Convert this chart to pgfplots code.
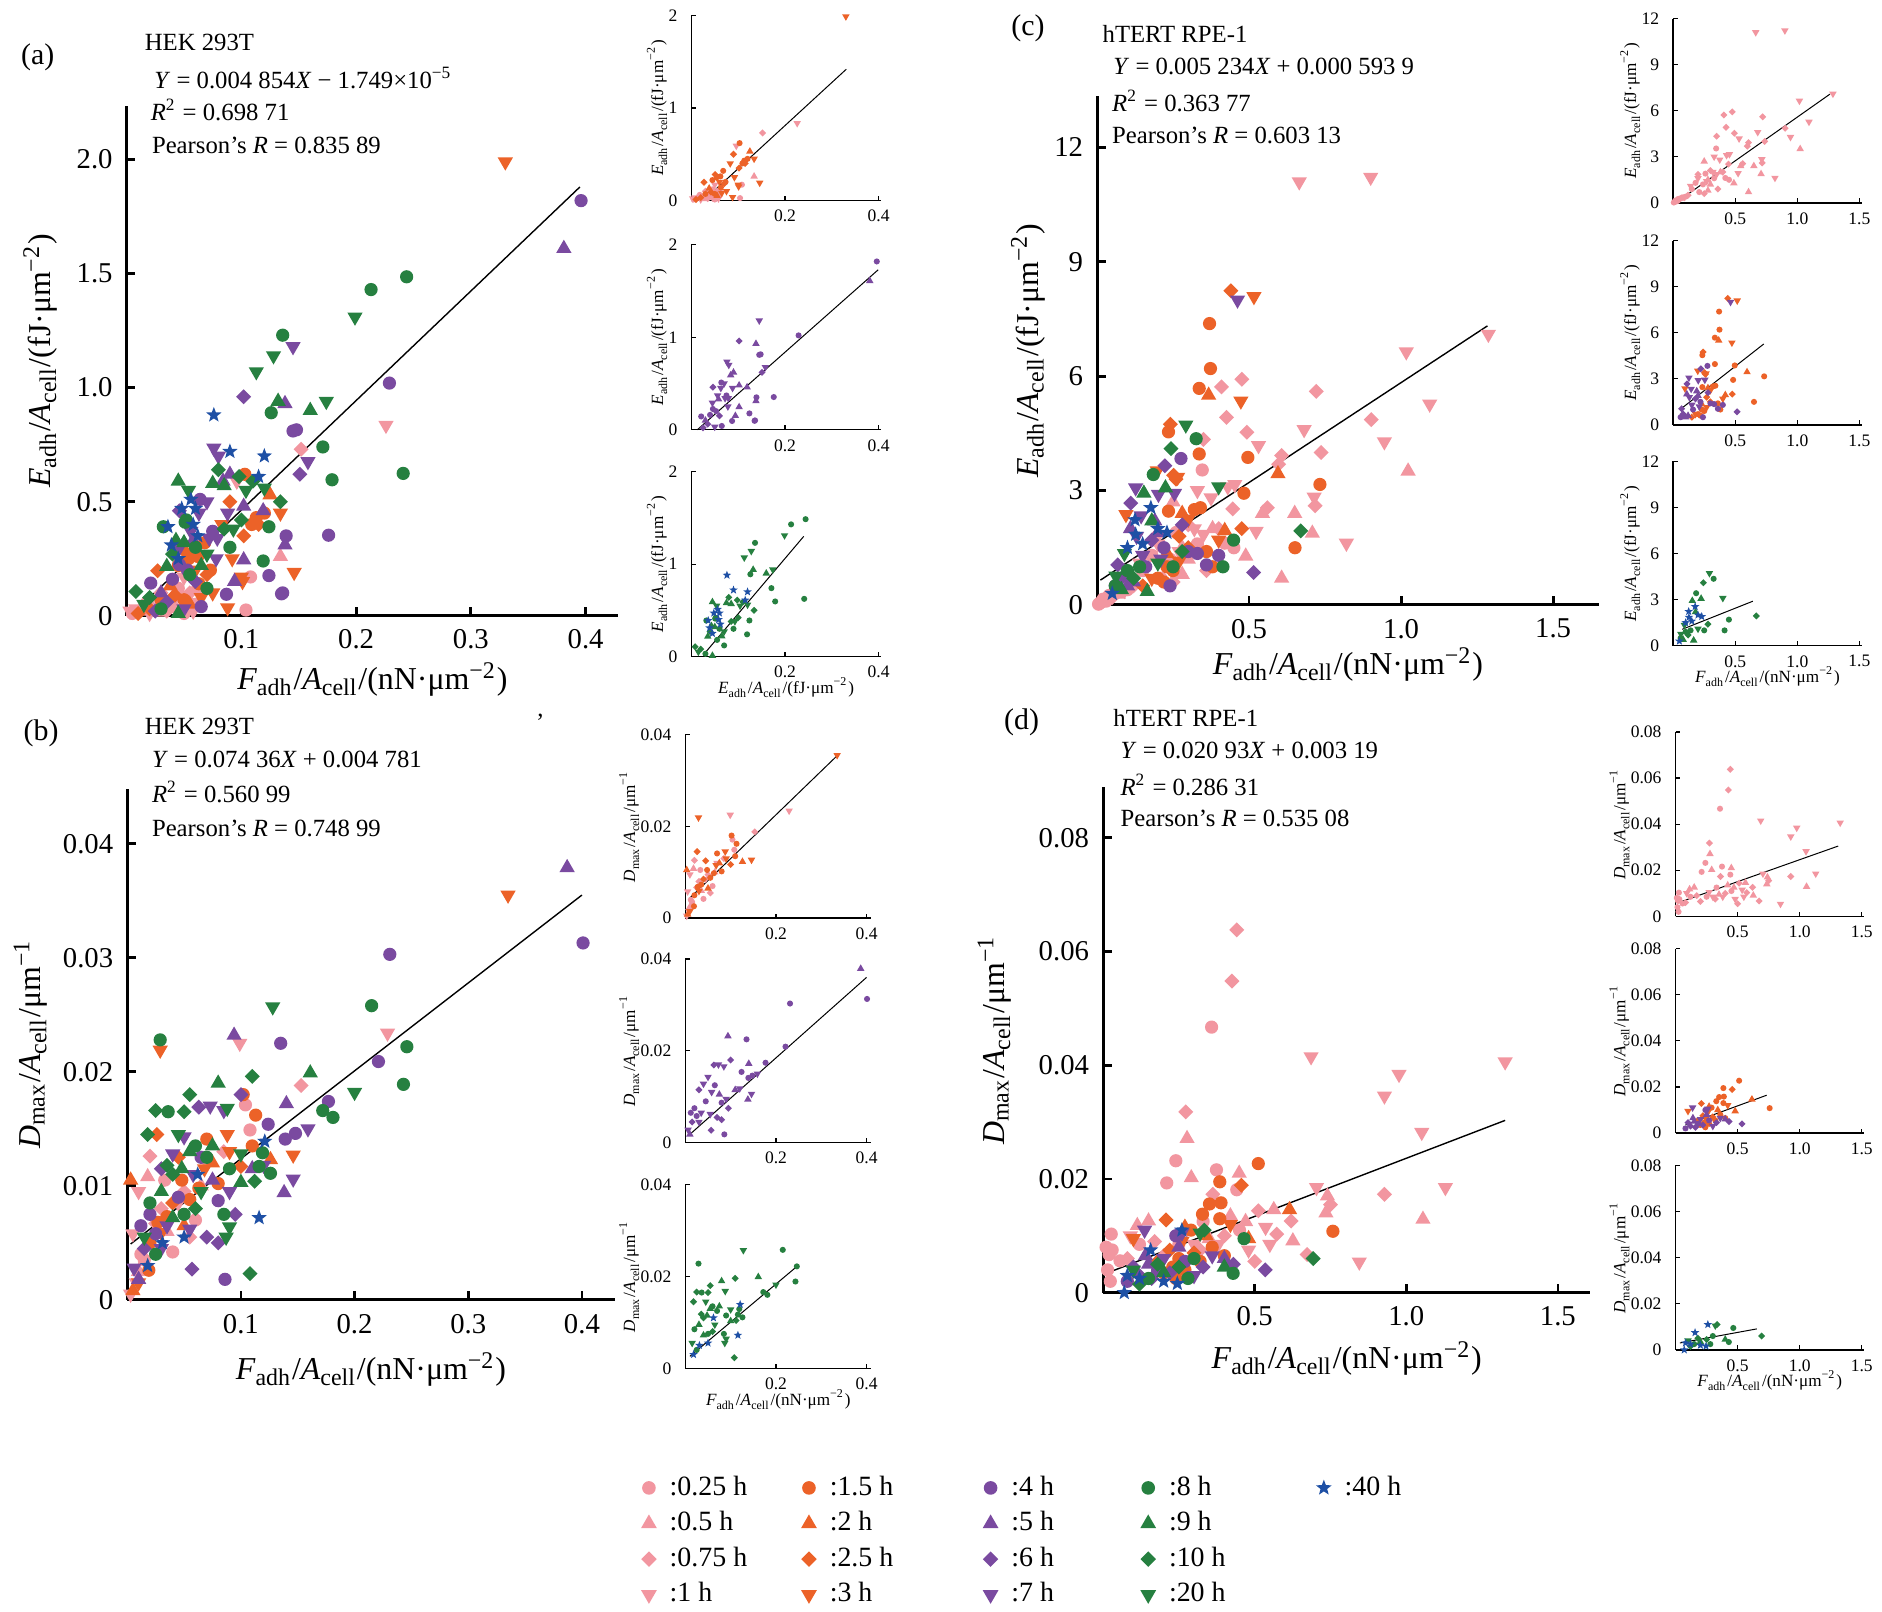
\documentclass[border=0pt]{standalone}
\usepackage{pgfplots}
\usepackage{pgfplotstable}
\pgfplotsset{compat=1.18}
\usepackage{fontspec}
\setmainfont{Liberation Serif}
\definecolor{pinkc}{RGB}{242,150,160}
\definecolor{orangec}{RGB}{236,98,40}
\definecolor{purplec}{RGB}{122,74,160}
\definecolor{greenc}{RGB}{38,128,64}
\definecolor{bluec}{RGB}{30,80,165}
\pgfdeclareplotmark{utri}{%
 \pgfpathmoveto{\pgfpointscale{1.25}{\pgfqpointpolar{90}{\pgfplotmarksize}}}%
 \pgfpathlineto{\pgfpointscale{1.25}{\pgfqpointpolar{210}{\pgfplotmarksize}}}%
 \pgfpathlineto{\pgfpointscale{1.25}{\pgfqpointpolar{330}{\pgfplotmarksize}}}%
 \pgfpathclose\pgfusepathqfillstroke}
\pgfdeclareplotmark{dtri}{%
 \pgfpathmoveto{\pgfpointscale{1.25}{\pgfqpointpolar{270}{\pgfplotmarksize}}}%
 \pgfpathlineto{\pgfpointscale{1.25}{\pgfqpointpolar{30}{\pgfplotmarksize}}}%
 \pgfpathlineto{\pgfpointscale{1.25}{\pgfqpointpolar{150}{\pgfplotmarksize}}}%
 \pgfpathclose\pgfusepathqfillstroke}
\pgfdeclareplotmark{dia}{%
 \pgfpathmoveto{\pgfpointscale{1.1}{\pgfqpointpolar{90}{\pgfplotmarksize}}}%
 \pgfpathlineto{\pgfpointscale{1.1}{\pgfqpointpolar{180}{\pgfplotmarksize}}}%
 \pgfpathlineto{\pgfpointscale{1.1}{\pgfqpointpolar{270}{\pgfplotmarksize}}}%
 \pgfpathlineto{\pgfpointscale{1.1}{\pgfqpointpolar{0}{\pgfplotmarksize}}}%
 \pgfpathclose\pgfusepathqfillstroke}
\pgfdeclareplotmark{fstar}{%
 \pgfpathmoveto{\pgfqpointpolar{90}{\pgfplotmarksize}}%
 \pgfpathlineto{\pgfpointscale{0.42}{\pgfqpointpolar{126}{\pgfplotmarksize}}}%
 \pgfpathlineto{\pgfqpointpolar{162}{\pgfplotmarksize}}%
 \pgfpathlineto{\pgfpointscale{0.42}{\pgfqpointpolar{198}{\pgfplotmarksize}}}%
 \pgfpathlineto{\pgfqpointpolar{234}{\pgfplotmarksize}}%
 \pgfpathlineto{\pgfpointscale{0.42}{\pgfqpointpolar{270}{\pgfplotmarksize}}}%
 \pgfpathlineto{\pgfqpointpolar{306}{\pgfplotmarksize}}%
 \pgfpathlineto{\pgfpointscale{0.42}{\pgfqpointpolar{342}{\pgfplotmarksize}}}%
 \pgfpathlineto{\pgfqpointpolar{18}{\pgfplotmarksize}}%
 \pgfpathlineto{\pgfpointscale{0.42}{\pgfqpointpolar{54}{\pgfplotmarksize}}}%
 \pgfpathclose\pgfusepathqfillstroke}
\newcommand{\fs}[1]{\fontsize{#1}{#1}\selectfont}
\newcommand{\Elab}{\textit{E}\textsubscript{adh}/\textit{A}\textsubscript{cell}/(fJ·μm\textsuperscript{−2})}
\newcommand{\Flab}{\textit{F}\textsubscript{adh}/\textit{A}\textsubscript{cell}/(nN·μm\textsuperscript{−2})}
\newcommand{\Dlab}{\textit{D}\textsubscript{max}/\textit{A}\textsubscript{cell}/μm\textsuperscript{−1}}
\pgfplotsset{
 grp/.style={only marks, scatter, scatter src=explicit symbolic,
   scatter/classes={o={mark=*,draw=#1,fill=#1},t={mark=utri,draw=#1,fill=#1},d={mark=dia,draw=#1,fill=#1},v={mark=dtri,draw=#1,fill=#1},s={mark=fstar,draw=#1,fill=#1}}},
 mainax/.style={scale only axis, axis lines=left, axis line style={-, line width=0.75bp}, tick align=inside, major tick length=2.2bp, every tick/.style={black, line width=0.7bp}, tick label style={font=\fs{7.2}}, label style={font=\fs{8}}, mark size=1.45bp, xmin=0, ymin=0, clip=false, scaled x ticks=false, scaled y ticks=false, /pgf/number format/assume math mode=true},
 insax/.style={scale only axis, axis lines=left, axis line style={-, line width=0.35bp}, tick align=inside, major tick length=1.1bp, every tick/.style={black, line width=0.3bp}, tick label style={font=\fs{4.4}}, xticklabel style={yshift=1.1bp}, label style={font=\fs{4.3}}, mark size=0.55bp, xmin=0, ymin=0, clip=false, scaled x ticks=false, scaled y ticks=false, xlabel shift=-7bp, ylabel shift=-6.5bp, /pgf/number format/assume math mode=true},
 fitline/.style={black, line width=0.35bp, no marks, forget plot},
 fitins/.style={black, line width=0.25bp, no marks, forget plot},
}
% ---------------- panel (a) data ----------------
\pgfplotstableread[row sep=\\]{
x y c\\
0.226 0.835 v\\ 0.152 0.73 d\\ 0.134 0.26 t\\ 0.108 0.17 o\\ 0.104 0.025 o\\ 0.096 0.59 v\\
0.005 0.01 o\\ 0.008 0.03 v\\ 0.012 0.02 t\\ 0.015 0.04 d\\ 0.02 0.01 v\\ 0.025 0.03 o\\ 0.03 0.05 v\\ 0.035 0.02 d\\
0.04 0.04 o\\ 0.045 0.03 v\\ 0.05 0.05 t\\ 0.055 0.06 d\\ 0.06 0.05 o\\ 0.058 0.02 v\\ 0.04 0.08 t\\ 0.03 0.1 d\\
0.045 0.12 o\\ 0.05 0.17 v\\ 0.06 0.12 t\\ 0.055 0.1 d\\ 0.018 0.06 o\\ 0.003 0.02 v\\ 0.027 0.015 t\\ 0.05 0.01 o\\
}\aPink
\pgfplotstableread[row sep=\\]{
x y c\\
0.33 1.99 v\\ 0.103 0.62 o\\ 0.125 0.53 t\\ 0.134 0.45 v\\ 0.113 0.43 o\\ 0.109 0.40 o\\ 0.146 0.19 v\\ 0.088 0.035 v\\
0.101 0.15 v\\ 0.09 0.50 d\\ 0.083 0.40 v\\ 0.092 0.25 v\\ 0.102 0.35 d\\ 0.027 0.197 d\\ 0.062 0.26 o\\ 0.054 0.25 o\\
0.063 0.14 o\\ 0.051 0.28 d\\ 0.045 0.22 o\\ 0.06 0.2 v\\ 0.07 0.18 d\\ 0.073 0.2 o\\ 0.038 0.13 t\\ 0.042 0.09 d\\
0.05 0.07 o\\ 0.065 0.08 v\\ 0.02 0.03 d\\ 0.03 0.07 o\\ 0.075 0.1 v\\ 0.055 0.05 t\\ 0.068 0.32 o\\ 0.1 0.17 v\\
0.115 0.40 d\\ 0.12 0.45 o\\ 0.01 0.01 d\\
}\aOrange
\pgfplotstableread[row sep=\\]{
x y c\\
0.396 1.82 o\\ 0.381 1.61 t\\ 0.145 1.18 v\\ 0.229 1.02 o\\ 0.102 0.96 d\\ 0.138 0.93 t\\ 0.145 0.81 o\\ 0.148 0.815 o\\
0.076 0.735 v\\ 0.08 0.70 v\\ 0.158 0.676 v\\ 0.151 0.62 d\\ 0.176 0.353 o\\ 0.136 0.10 o\\ 0.087 0.094 o\\ 0.124 0.176 o\\
0.139 0.35 o\\ 0.138 0.31 t\\ 0.021 0.143 o\\ 0.046 0.224 o\\ 0.053 0.2 o\\ 0.056 0.37 v\\ 0.046 0.46 d\\ 0.063 0.45 v\\
0.064 0.51 o\\ 0.084 0.59 t\\ 0.088 0.45 v\\ 0.102 0.48 t\\ 0.072 0.34 v\\ 0.079 0.34 v\\ 0.078 0.25 v\\ 0.102 0.245 t\\
0.094 0.15 t\\ 0.135 0.096 o\\ 0.119 0.46 t\\ 0.07 0.5 v\\ 0.09 0.62 t\\ 0.04 0.16 o\\ 0.03 0.1 t\\ 0.035 0.06 d\\
0.05 0.03 v\\ 0.065 0.04 o\\ 0.025 0.02 d\\ 0.045 0.29 v\\ 0.058 0.33 t\\ 0.06 0.15 d\\ 0.075 0.37 o\\
}\aPurple
\pgfplotstableread[row sep=\\]{
x y c\\
0.244 1.486 o\\ 0.213 1.43 o\\ 0.199 1.31 v\\ 0.136 1.23 o\\ 0.128 1.14 v\\ 0.113 1.07 v\\ 0.126 0.89 o\\ 0.132 0.94 t\\
0.16 0.90 t\\ 0.174 0.94 v\\ 0.171 0.74 o\\ 0.241 0.624 o\\ 0.179 0.596 o\\ 0.119 0.24 o\\ 0.134 0.50 d\\ 0.124 0.39 o\\
0.045 0.59 t\\ 0.032 0.39 o\\ 0.052 0.42 o\\ 0.075 0.58 t\\ 0.008 0.106 d\\ 0.035 0.216 t\\ 0.043 0.33 t\\ 0.051 0.41 o\\
0.054 0.55 v\\ 0.104 0.55 v\\ 0.1 0.42 d\\ 0.093 0.38 v\\ 0.09 0.30 o\\ 0.098 0.61 d\\ 0.11 0.59 d\\ 0.12 0.56 v\\
0.085 0.57 t\\ 0.08 0.64 d\\ 0.06 0.30 o\\ 0.05 0.32 t\\ 0.04 0.27 d\\ 0.07 0.27 v\\ 0.055 0.18 o\\ 0.065 0.22 t\\
0.02 0.08 d\\ 0.03 0.03 o\\ 0.045 0.01 t\\ 0.015 0.05 v\\ 0.07 0.12 o\\ 0.085 0.38 d\\
}\aGreen
\pgfplotstableread[row sep=\\]{
x y c\\
0.076 0.88 s\\ 0.09 0.72 s\\ 0.12 0.70 s\\ 0.115 0.61 s\\ 0.056 0.51 s\\ 0.06 0.47 s\\ 0.036 0.39 s\\ 0.039 0.31 s\\
0.048 0.47 s\\ 0.058 0.40 s\\ 0.045 0.25 s\\ 0.062 0.35 s\\
}\aBlue
% ---------------- panel (b) data ----------------
\pgfplotstableread[row sep=\\]{
x y c\\
0.229 0.0234 v\\ 0.099 0.0225 v\\ 0.153 0.0188 d\\ 0.104 0.0171 o\\ 0.108 0.0149 o\\ 0.01 0.0095 v\\ 0.02 0.0126 d\\ 0.018 0.0108 t\\
0.005 0.0058 v\\ 0.012 0.004 o\\ 0.01 0.0025 t\\ 0.003 0.0005 v\\ 0.03 0.008 d\\ 0.04 0.0042 o\\ 0.055 0.0055 d\\ 0.06 0.007 o\\
0.035 0.006 t\\ 0.045 0.0085 v\\ 0.025 0.0067 d\\ 0.015 0.0035 o\\ 0.008 0.0015 v\\ 0.05 0.0095 d\\ 0.065 0.01 t\\ 0.033 0.0105 o\\
0.07 0.012 v\\ 0.085 0.013 d\\
}\bPink
\pgfplotstableread[row sep=\\]{
x y c\\
0.335 0.0355 v\\ 0.029 0.0219 v\\ 0.026 0.0145 d\\ 0.003 0.0105 t\\ 0.102 0.018 o\\ 0.113 0.0162 o\\ 0.146 0.0127 v\\ 0.126 0.0123 t\\
0.07 0.0141 o\\ 0.11 0.0135 o\\ 0.088 0.0145 v\\ 0.09 0.013 v\\ 0.1 0.0117 d\\ 0.068 0.0115 v\\ 0.063 0.0098 o\\ 0.048 0.0105 o\\
0.035 0.0073 o\\ 0.027 0.0068 o\\ 0.02 0.005 o\\ 0.019 0.0026 o\\ 0.04 0.0085 d\\ 0.01 0.0015 v\\ 0.005 0.0008 t\\ 0.055 0.0088 o\\
0.05 0.0065 t\\ 0.03 0.0059 v\\ 0.045 0.0125 d\\ 0.08 0.0102 o\\ 0.075 0.012 t\\
}\bOrange
\pgfplotstableread[row sep=\\]{
x y c\\
0.387 0.0379 t\\ 0.401 0.0313 o\\ 0.231 0.0303 o\\ 0.221 0.0209 o\\ 0.135 0.0225 o\\ 0.094 0.0232 t\\ 0.177 0.0174 o\\ 0.159 0.015 v\\
0.139 0.0141 o\\ 0.148 0.0146 o\\ 0.124 0.0154 o\\ 0.146 0.0106 v\\ 0.138 0.0094 t\\ 0.086 0.0018 o\\ 0.057 0.0027 d\\ 0.08 0.005 d\\
0.073 0.017 v\\ 0.063 0.0169 d\\ 0.14 0.0172 t\\ 0.085 0.0166 v\\ 0.1 0.018 d\\ 0.05 0.0143 v\\ 0.04 0.0128 v\\ 0.03 0.0115 d\\
0.065 0.0125 o\\ 0.058 0.011 v\\ 0.075 0.0105 t\\ 0.08 0.0087 o\\ 0.09 0.0095 v\\ 0.11 0.0115 t\\ 0.12 0.0118 v\\ 0.095 0.0075 d\\
0.045 0.009 o\\ 0.035 0.0065 v\\ 0.025 0.0058 o\\ 0.015 0.0045 d\\ 0.006 0.0028 v\\ 0.01 0.0018 t\\ 0.02 0.0075 o\\ 0.055 0.0062 v\\
0.07 0.0055 d\\ 0.012 0.0065 o\\ 0.03 0.0045 v\\
}\bPurple
\pgfplotstableread[row sep=\\]{
x y c\\
0.215 0.0258 o\\ 0.128 0.0257 v\\ 0.029 0.0228 o\\ 0.246 0.0222 o\\ 0.243 0.0189 o\\ 0.2 0.0182 v\\ 0.161 0.0199 t\\ 0.11 0.0196 d\\
0.172 0.0166 o\\ 0.181 0.016 o\\ 0.119 0.0129 o\\ 0.116 0.0117 o\\ 0.126 0.0111 o\\ 0.108 0.0023 d\\ 0.018 0.0145 d\\ 0.025 0.0166 d\\
0.036 0.0165 o\\ 0.055 0.018 d\\ 0.08 0.019 t\\ 0.088 0.0168 v\\ 0.05 0.0165 d\\ 0.085 0.0075 o\\ 0.087 0.0055 v\\ 0.09 0.0064 v\\
0.1 0.0103 t\\ 0.09 0.0115 o\\ 0.055 0.013 t\\ 0.04 0.011 d\\ 0.045 0.0145 v\\ 0.06 0.0135 o\\ 0.03 0.0095 t\\ 0.02 0.0085 o\\
0.035 0.0118 d\\ 0.065 0.0095 v\\ 0.07 0.0125 o\\ 0.075 0.0135 t\\ 0.06 0.008 d\\ 0.015 0.0055 v\\ 0.025 0.004 o\\ 0.04 0.0072 t\\
0.112 0.0104 d\\ 0.05 0.0075 o\\ 0.1 0.0128 v\\ 0.048 0.0115 t\\
}\bGreen
\pgfplotstableread[row sep=\\]{
x y c\\
0.121 0.0139 s\\ 0.116 0.0072 s\\ 0.031 0.005 s\\ 0.062 0.011 s\\ 0.05 0.0055 s\\ 0.018 0.003 s\\
}\bBlue
% ---------------- panel (c) data ----------------
\pgfplotstableread[row sep=\\]{
x y c\\
0.665 11.1 v\\ 0.9 11.22 v\\ 0.476 5.92 d\\ 0.409 5.72 d\\ 0.721 5.6 d\\ 0.426 4.92 d\\ 1.287 7.1 v\\ 1.017 6.64 v\\
1.094 5.27 v\\ 0.902 4.86 d\\ 0.945 4.28 v\\ 0.681 4.6 v\\ 0.737 4.0 d\\ 0.607 3.92 d\\ 0.493 4.53 d\\ 0.531 4.18 v\\
0.597 3.69 d\\ 1.023 3.51 t\\ 0.717 2.6 d\\ 0.714 2.83 v\\ 0.65 2.4 t\\ 0.708 1.88 t\\ 0.82 1.62 v\\ 0.607 0.7 t\\
0.489 1.28 t\\ 0.523 1.93 v\\ 0.446 2.52 d\\ 0.453 3.16 v\\ 0.43 3.1 v\\ 0.544 2.4 t\\ 0.375 2.81 v\\ 0.346 3.54 o\\
0.35 4.34 d\\ 0.33 3.0 v\\ 0.4 2.0 d\\ 0.38 2.0 t\\ 0.35 1.85 v\\ 0.42 1.62 o\\ 0.3 2.1 d\\ 0.26 1.9 o\\
0.28 1.5 t\\ 0.2 1.6 v\\ 0.18 1.3 o\\ 0.2 1.85 d\\ 0.24 1.2 o\\ 0.27 1.4 v\\ 0.3 1.2 t\\ 0.21 0.7 o\\
0.25 0.6 d\\ 0.15 0.9 o\\ 0.14 1.1 v\\ 0.12 0.5 d\\ 0.1 0.4 o\\ 0.08 0.35 o\\ 0.06 0.3 o\\ 0.04 0.25 o\\
0.02 0.15 o\\ 0.01 0.05 o\\ 0.03 0.1 o\\ 0.05 0.2 d\\ 0.07 0.28 t\\ 0.09 0.38 v\\ 0.005 0.02 o\\ 0.015 0.08 o\\
0.25 2.7 t\\ 0.32 2.0 v\\ 0.56 2.55 d\\ 0.45 1.5 o\\ 0.33 1.6 o\\ 0.36 0.9 d\\ 0.28 0.8 t\\
}\cPink
\pgfplotstableread[row sep=\\]{
x y c\\
0.44 8.24 d\\ 0.516 8.09 v\\ 0.37 7.38 o\\ 0.373 6.2 o\\ 0.336 5.68 o\\ 0.367 5.5 t\\ 0.473 5.35 v\\ 0.595 3.44 t\\
0.733 3.16 o\\ 0.651 1.5 o\\ 0.476 2.0 d\\ 0.483 2.93 o\\ 0.496 3.87 o\\ 0.336 3.96 o\\ 0.235 4.54 o\\ 0.241 4.74 d\\
0.235 2.46 o\\ 0.198 3.52 v\\ 0.252 3.4 d\\ 0.095 2.37 v\\ 0.32 2.5 o\\ 0.34 2.55 o\\ 0.3 2.25 v\\ 0.28 2.4 t\\
0.27 1.8 d\\ 0.23 1.0 o\\ 0.18 0.7 v\\ 0.25 0.9 o\\ 0.3 1.5 d\\ 0.36 1.4 o\\ 0.4 1.7 v\\ 0.42 1.95 t\\
0.2 0.7 o\\ 0.15 0.5 d\\ 0.22 0.6 o\\ 0.27 1.15 v\\ 0.23 1.35 t\\ 0.38 1.0 o\\ 0.26 3.3 d\\ 0.265 3.35 v\\
}\cOrange
\pgfplotstableread[row sep=\\]{
x y c\\
0.462 8.0 v\\ 0.515 0.85 d\\ 0.276 3.84 o\\ 0.223 3.65 d\\ 0.202 2.9 v\\ 0.255 2.93 v\\ 0.127 3.07 v\\ 0.111 2.67 d\\
0.145 2.34 v\\ 0.068 1.05 d\\ 0.1 0.5 t\\ 0.3 1.4 o\\ 0.33 1.35 o\\ 0.36 1.05 o\\ 0.4 1.3 o\\ 0.2 1.9 t\\
0.15 1.3 v\\ 0.18 1.7 d\\ 0.22 1.5 o\\ 0.12 0.6 t\\ 0.13 1.8 v\\ 0.16 1.0 o\\ 0.08 0.7 d\\ 0.19 2.2 t\\
0.24 0.5 o\\ 0.21 1.2 v\\ 0.28 2.1 d\\ 0.11 2.0 t\\ 0.06 0.5 o\\
}\cPurple
\pgfplotstableread[row sep=\\]{
x y c\\
0.67 1.94 d\\ 0.449 1.7 o\\ 0.414 1.0 o\\ 0.326 4.36 o\\ 0.292 4.72 v\\ 0.243 4.1 d\\ 0.185 3.42 o\\ 0.225 3.07 t\\
0.4 3.1 v\\ 0.154 2.93 t\\ 0.165 0.35 t\\ 0.062 0.76 v\\ 0.09 1.35 v\\ 0.1 0.9 o\\ 0.12 0.7 d\\ 0.14 1.0 o\\
0.18 2.2 t\\ 0.2 1.1 v\\ 0.25 1.0 o\\ 0.28 1.4 d\\ 0.06 0.5 o\\ 0.08 0.4 t\\
}\cGreen
\pgfplotstableread[row sep=\\]{
x y c\\
0.177 2.55 s\\ 0.125 2.23 s\\ 0.127 1.85 s\\ 0.23 1.9 s\\ 0.15 1.6 s\\ 0.1 1.5 s\\ 0.2 2.0 s\\ 0.05 0.3 s\\
}\cBlue
% ---------------- panel (d) data ----------------
\pgfplotstableread[row sep=\\]{
x y c\\
0.441 0.0638 d\\ 0.425 0.0548 d\\ 0.358 0.0467 o\\ 0.686 0.0415 v\\ 1.326 0.0406 v\\ 0.976 0.0384 v\\ 0.928 0.0346 v\\ 0.273 0.0318 d\\
1.051 0.0282 v\\ 0.277 0.0271 t\\ 0.24 0.0232 o\\ 0.291 0.0202 t\\ 0.21 0.0193 o\\ 0.374 0.0216 o\\ 0.449 0.021 t\\ 1.129 0.0185 v\\
0.704 0.0185 v\\ 0.928 0.0173 d\\ 0.74 0.017 t\\ 0.75 0.0155 d\\ 0.735 0.014 t\\ 1.055 0.0129 t\\ 0.845 0.0054 v\\ 0.673 0.0067 d\\
0.626 0.0091 t\\ 0.62 0.0126 d\\ 0.55 0.0085 v\\ 0.563 0.0146 t\\ 0.512 0.0144 d\\ 0.536 0.0115 v\\ 0.573 0.0103 d\\ 0.441 0.0181 o\\
0.362 0.0173 d\\ 0.15 0.0126 t\\ 0.113 0.0118 t\\ 0.027 0.0103 o\\ 0.02 0.0067 o\\ 0.024 0.002 o\\ 0.056 0.0056 o\\ 0.01 0.008 o\\
0.015 0.004 o\\ 0.03 0.0075 o\\ 0.08 0.006 d\\ 0.35 0.0095 t\\ 0.3 0.0085 v\\ 0.4 0.01 d\\ 0.45 0.011 o\\ 0.48 0.0075 v\\
0.5 0.0055 d\\ 0.47 0.0125 t\\ 0.33 0.0125 o\\ 0.27 0.0105 v\\ 0.2 0.0065 d\\ 0.25 0.0085 o\\ 0.42 0.0135 t\\ 0.38 0.0085 v\\
0.32 0.0075 d\\ 0.12 0.0085 o\\ 0.09 0.01 v\\ 0.17 0.009 d\\
}\dPink
\pgfplotstableread[row sep=\\]{
x y c\\
0.512 0.0227 o\\ 0.385 0.0195 o\\ 0.758 0.0108 o\\ 0.615 0.0146 t\\ 0.385 0.013 o\\ 0.328 0.0138 o\\ 0.389 0.0158 o\\ 0.351 0.0156 o\\
0.456 0.0189 d\\ 0.208 0.0128 d\\ 0.1 0.0095 v\\ 0.25 0.006 o\\ 0.27 0.004 o\\ 0.23 0.0045 o\\ 0.3 0.007 d\\ 0.32 0.0055 o\\
0.26 0.009 v\\ 0.34 0.01 t\\ 0.2 0.0035 o\\ 0.22 0.0075 d\\ 0.29 0.011 o\\ 0.42 0.012 v\\ 0.48 0.0095 t\\ 0.36 0.008 o\\
0.4 0.0065 o\\ 0.18 0.0055 d\\ 0.24 0.0025 o\\ 0.27 0.0115 t\\
}\dOrange
\pgfplotstableread[row sep=\\]{
x y c\\
0.137 0.011 v\\ 0.535 0.004 d\\ 0.12 0.003 d\\ 0.1 0.0045 d\\ 0.15 0.005 t\\ 0.18 0.004 o\\ 0.2 0.006 v\\ 0.22 0.0035 d\\
0.25 0.008 t\\ 0.27 0.0055 o\\ 0.3 0.003 v\\ 0.33 0.0045 d\\ 0.4 0.006 t\\ 0.43 0.005 d\\ 0.24 0.01 o\\ 0.26 0.0105 v\\
0.14 0.0065 t\\ 0.16 0.0025 d\\ 0.08 0.002 o\\ 0.36 0.0065 v\\
}\dPurple
\pgfplotstableread[row sep=\\]{
x y c\\
0.693 0.006 d\\ 0.429 0.0034 o\\ 0.465 0.0095 o\\ 0.334 0.011 d\\ 0.12 0.0015 d\\ 0.15 0.0025 o\\ 0.1 0.004 v\\ 0.2 0.0035 t\\
0.25 0.0045 d\\ 0.3 0.006 o\\ 0.4 0.0045 t\\ 0.32 0.0105 v\\ 0.28 0.0025 o\\ 0.18 0.005 d\\
}\dGreen
\pgfplotstableread[row sep=\\]{
x y c\\
0.07 0.0 s\\ 0.2 0.002 s\\ 0.245 0.0016 s\\ 0.157 0.0075 s\\ 0.26 0.011 s\\ 0.08 0.003 s\\ 0.12 0.0025 s\\
}\dBlue
\begin{document}
\begin{tikzpicture}
\useasboundingbox (0,0) rectangle (470.4bp,402.9bp);
% ================= (a) main =================
\begin{axis}[mainax, at={(31.65bp,249bp)}, anchor=south west, width=122.85bp, height=127.35bp,
  xmax=0.4283, ymax=2.234, xtick={0.1,0.2,0.3,0.4}, xticklabels={0.1,0.2,0.3,0.4},
  ytick={0,0.5,1,1.5,2}, yticklabels={0,0.5,1.0,1.5,2.0}, xlabel={\Flab}, ylabel={\Elab},
  xlabel shift=-3.5bp, ylabel shift=-2bp]
\addplot[fitline] coordinates {(0.005,0.007) (0.395,1.88)};
\addplot[grp=pinkc] table[x=x,y=y,meta=c]{\aPink};
\addplot[grp=orangec] table[x=x,y=y,meta=c]{\aOrange};
\addplot[grp=purplec] table[x=x,y=y,meta=c]{\aPurple};
\addplot[grp=greenc] table[x=x,y=y,meta=c]{\aGreen};
\addplot[grp=bluec] table[x=x,y=y,meta=c]{\aBlue};
\end{axis}
% (a) insets
\begin{axis}[insax, at={(172.8bp,352.8bp)}, anchor=south west, width=47.4bp, height=46.2bp, xmax=0.405, ymax=2,
  xtick={0.2,0.4}, xticklabels={0.2,0.4}, ytick={0,1,2}, yticklabels={0,1,2}, ylabel={\Elab}]
\addplot[fitins] coordinates {(0.039,0.06) (0.331,1.42)};
\addplot[grp=pinkc] table[x=x,y=y,meta=c]{\aPink};
\addplot[grp=orangec] table[x=x,y=y,meta=c]{\aOrange};
\end{axis}
\begin{axis}[insax, at={(172.8bp,295.5bp)}, anchor=south west, width=47.4bp, height=46.2bp, xmax=0.405, ymax=2,
  xtick={0.2,0.4}, xticklabels={0.2,0.4}, ytick={0,1,2}, yticklabels={0,1,2}, ylabel={\Elab}]
\addplot[fitins] coordinates {(0.013,0.0) (0.399,1.73)};
\addplot[grp=purplec] table[x=x,y=y,meta=c]{\aPurple};
\end{axis}
\begin{axis}[insax, at={(172.8bp,238.8bp)}, anchor=south west, width=47.4bp, height=46.2bp, xmax=0.405, ymax=2,
  xtick={0.2,0.4}, xticklabels={0.2,0.4}, ytick={0,1,2}, yticklabels={0,1,2}, ylabel={\Elab}, xlabel={\Elab}]
\addplot[fitins] coordinates {(0.026,0.02) (0.24,1.3)};
\addplot[grp=greenc] table[x=x,y=y,meta=c]{\aGreen};
\addplot[grp=bluec] table[x=x,y=y,meta=c]{\aBlue};
\end{axis}
% ================= (b) main =================
\begin{axis}[mainax, at={(31.8bp,78bp)}, anchor=south west, width=121.8bp, height=127.8bp,
  xmax=0.4287, ymax=0.04484, xtick={0.1,0.2,0.3,0.4}, xticklabels={0.1,0.2,0.3,0.4},
  ytick={0,0.01,0.02,0.03,0.04}, yticklabels={0,0.01,0.02,0.03,0.04}, xlabel={\Flab}, ylabel={\Dlab},
  xlabel shift=-2bp, ylabel shift=-3bp]
\addplot[fitline] coordinates {(0.003,0.0049) (0.4,0.0355)};
\addplot[grp=pinkc] table[x=x,y=y,meta=c]{\bPink};
\addplot[grp=orangec] table[x=x,y=y,meta=c]{\bOrange};
\addplot[grp=purplec] table[x=x,y=y,meta=c]{\bPurple};
\addplot[grp=greenc] table[x=x,y=y,meta=c]{\bGreen};
\addplot[grp=bluec] table[x=x,y=y,meta=c]{\bBlue};
\end{axis}
% (b) insets
\begin{axis}[insax, at={(171.3bp,173.4bp)}, anchor=south west, width=46.5bp, height=45.9bp, xmax=0.4106, ymax=0.04,
  xtick={0.2,0.4}, xticklabels={0.2,0.4}, ytick={0,0.02,0.04}, yticklabels={0,0.02,0.04}, ylabel={\Dlab}]
\addplot[fitins] coordinates {(0.01,0.0044) (0.334,0.0353)};
\addplot[grp=pinkc] table[x=x,y=y,meta=c]{\bPink};
\addplot[grp=orangec] table[x=x,y=y,meta=c]{\bOrange};
\end{axis}
\begin{axis}[insax, at={(171.3bp,117.3bp)}, anchor=south west, width=46.5bp, height=45.9bp, xmax=0.4106, ymax=0.04,
  xtick={0.2,0.4}, xticklabels={0.2,0.4}, ytick={0,0.02,0.04}, yticklabels={0,0.02,0.04}, ylabel={\Dlab}]
\addplot[fitins] coordinates {(0.01,0.0018) (0.4,0.036)};
\addplot[grp=purplec] table[x=x,y=y,meta=c]{\bPurple};
\end{axis}
\begin{axis}[insax, at={(171.3bp,60.9bp)}, anchor=south west, width=46.5bp, height=45.9bp, xmax=0.4106, ymax=0.04,
  xtick={0.2,0.4}, xticklabels={0.2,0.4}, ytick={0,0.02,0.04}, yticklabels={0,0.02,0.04}, ylabel={\Dlab}, xlabel={\Flab}]
\addplot[fitins] coordinates {(0.01,0.0026) (0.244,0.022)};
\addplot[grp=greenc] table[x=x,y=y,meta=c]{\bGreen};
\addplot[grp=bluec] table[x=x,y=y,meta=c]{\bBlue};
\end{axis}
% ================= (c) main =================
\begin{axis}[mainax, at={(274.2bp,251.7bp)}, anchor=south west, width=125.4bp, height=127.2bp,
  xmax=1.65, ymax=13.35, xtick={0.5,1,1.5}, xticklabels={0.5,1.0,1.5},
  ytick={0,3,6,9,12}, yticklabels={0,3,6,9,12}, xlabel={\Flab}, ylabel={\Elab},
  xlabel shift=-4.5bp, ylabel shift=-4.5bp]
\addplot[fitline] coordinates {(0.011,0.65) (1.284,7.32)};
\addplot[grp=pinkc] table[x=x,y=y,meta=c]{\cPink};
\addplot[grp=orangec] table[x=x,y=y,meta=c]{\cOrange};
\addplot[grp=purplec] table[x=x,y=y,meta=c]{\cPurple};
\addplot[grp=greenc] table[x=x,y=y,meta=c]{\cGreen};
\addplot[grp=bluec] table[x=x,y=y,meta=c]{\cBlue};
\end{axis}
% (c) insets
\begin{axis}[insax, at={(418.2bp,352.2bp)}, anchor=south west, width=47.1bp, height=46.05bp, xmax=1.518, ymax=12,
  xtick={0.5,1,1.5}, xticklabels={0.5,1.0,1.5}, ytick={0,3,6,9,12}, yticklabels={0,3,6,9,12}, ylabel={\Elab}]
\addplot[fitins] coordinates {(0.046,0.15) (1.263,7.08)};
\addplot[grp=pinkc] table[x=x,y=y,meta=c]{\cPink};
\end{axis}
\begin{axis}[insax, at={(418.2bp,296.7bp)}, anchor=south west, width=47.1bp, height=46.05bp, xmax=1.518, ymax=12,
  xtick={0.5,1,1.5}, xticklabels={0.5,1.0,1.5}, ytick={0,3,6,9,12}, yticklabels={0,3,6,9,12}, ylabel={\Elab}]
\addplot[fitins] coordinates {(0.067,1.07) (0.73,5.27)};
\addplot[grp=orangec] table[x=x,y=y,meta=c]{\cOrange};
\addplot[grp=purplec] table[x=x,y=y,meta=c]{\cPurple};
\end{axis}
\begin{axis}[insax, at={(418.2bp,241.5bp)}, anchor=south west, width=47.1bp, height=46.05bp, xmax=1.518, ymax=12,
  xtick={0.5,1,1.5}, xticklabels={0.5,1.0,1.5}, ytick={0,3,6,9,12}, yticklabels={0,3,6,9,12}, ylabel={\Elab}, xlabel={\Flab}]
\addplot[fitins] coordinates {(0.073,1.07) (0.642,2.9)};
\addplot[grp=greenc] table[x=x,y=y,meta=c]{\cGreen};
\addplot[grp=bluec] table[x=x,y=y,meta=c]{\cBlue};
\end{axis}
% ================= (d) main =================
\begin{axis}[mainax, at={(275.7bp,79.8bp)}, anchor=south west, width=121.8bp, height=126.3bp,
  xmax=1.607, ymax=0.08887, xtick={0.5,1,1.5}, xticklabels={0.5,1.0,1.5},
  ytick={0,0.02,0.04,0.06,0.08}, yticklabels={0,0.02,0.04,0.06,0.08}, xlabel={\Flab}, ylabel={\Dlab},
  xlabel shift=-3bp]
\addplot[fitline] coordinates {(0.02,0.0036) (1.326,0.0303)};
\addplot[grp=pinkc] table[x=x,y=y,meta=c]{\dPink};
\addplot[grp=orangec] table[x=x,y=y,meta=c]{\dOrange};
\addplot[grp=purplec] table[x=x,y=y,meta=c]{\dPurple};
\addplot[grp=greenc] table[x=x,y=y,meta=c]{\dGreen};
\addplot[grp=bluec] table[x=x,y=y,meta=c]{\dBlue};
\end{axis}
% (d) insets
\begin{axis}[insax, at={(418.8bp,173.85bp)}, anchor=south west, width=47.1bp, height=46.1bp, xmax=1.518, ymax=0.08,
  xtick={0.5,1,1.5}, xticklabels={0.5,1.0,1.5}, ytick={0,0.02,0.04,0.06,0.08}, yticklabels={0,0.02,0.04,0.06,0.08}, ylabel={\Dlab}]
\addplot[fitins] coordinates {(0.035,0.0062) (1.31,0.0305)};
\addplot[grp=pinkc] table[x=x,y=y,meta=c]{\dPink};
\end{axis}
\begin{axis}[insax, at={(418.8bp,119.7bp)}, anchor=south west, width=47.1bp, height=46.1bp, xmax=1.518, ymax=0.08,
  xtick={0.5,1,1.5}, xticklabels={0.5,1.0,1.5}, ytick={0,0.02,0.04,0.06,0.08}, yticklabels={0,0.02,0.04,0.06,0.08}, ylabel={\Dlab}]
\addplot[fitins] coordinates {(0.08,0.0035) (0.734,0.0164)};
\addplot[grp=orangec] table[x=x,y=y,meta=c]{\dOrange};
\addplot[grp=purplec] table[x=x,y=y,meta=c]{\dPurple};
\end{axis}
\begin{axis}[insax, at={(418.8bp,65.5bp)}, anchor=south west, width=47.1bp, height=46.1bp, xmax=1.518, ymax=0.08,
  xtick={0.5,1,1.5}, xticklabels={0.5,1.0,1.5}, ytick={0,0.02,0.04,0.06,0.08}, yticklabels={0,0.02,0.04,0.06,0.08}, ylabel={\Dlab}, xlabel={\Flab}]
\addplot[fitins] coordinates {(0.035,0.003) (0.654,0.0091)};
\addplot[grp=greenc] table[x=x,y=y,meta=c]{\dGreen};
\addplot[grp=bluec] table[x=x,y=y,meta=c]{\dBlue};
\end{axis}
% ================= legend =================
\begin{axis}[at={(157.5bp,34.5bp)}, anchor=north west, hide axis, scale only axis, width=1bp, height=1bp,
  xmin=0, xmax=1, ymin=0, ymax=1,
  legend image code/.code={\path (-4.5bp,0bp) (4.5bp,0bp); \draw[#1] plot coordinates {(0bp,0bp)};},
  legend style={at={(0,1)}, anchor=north west, draw=none, fill=none, inner sep=0pt, outer sep=0pt,
    font=\fs{7}, legend columns=5, row sep=1.9bp, /tikz/every even column/.append style={column sep=0pt},
    nodes={inner sep=0.5bp, text height=4.8bp, text depth=1.2bp}},
  legend cell align=left]
\addlegendimage{only marks, mark=*, draw=pinkc, fill=pinkc, mark size=1.5bp}\addlegendentry{\makebox[29.6bp][l]{:0.25 h}}
\addlegendimage{only marks, mark=*, draw=orangec, fill=orangec, mark size=1.5bp}\addlegendentry{\makebox[35bp][l]{:1.5 h}}
\addlegendimage{only marks, mark=*, draw=purplec, fill=purplec, mark size=1.5bp}\addlegendentry{\makebox[29bp][l]{:4 h}}
\addlegendimage{only marks, mark=*, draw=greenc, fill=greenc, mark size=1.5bp}\addlegendentry{\makebox[33.5bp][l]{:8 h}}
\addlegendimage{only marks, mark=fstar, draw=bluec, fill=bluec, mark size=1.5bp}\addlegendentry{:40 h}
\addlegendimage{only marks, mark=utri, draw=pinkc, fill=pinkc, mark size=1.5bp}\addlegendentry{\makebox[29.6bp][l]{:0.5 h}}
\addlegendimage{only marks, mark=utri, draw=orangec, fill=orangec, mark size=1.5bp}\addlegendentry{\makebox[35bp][l]{:2 h}}
\addlegendimage{only marks, mark=utri, draw=purplec, fill=purplec, mark size=1.5bp}\addlegendentry{\makebox[29bp][l]{:5 h}}
\addlegendimage{only marks, mark=utri, draw=greenc, fill=greenc, mark size=1.5bp}\addlegendentry{\makebox[33.5bp][l]{:9 h}}
\addlegendimage{empty legend}\addlegendentry{}
\addlegendimage{only marks, mark=dia, draw=pinkc, fill=pinkc, mark size=1.5bp}\addlegendentry{\makebox[29.6bp][l]{:0.75 h}}
\addlegendimage{only marks, mark=dia, draw=orangec, fill=orangec, mark size=1.5bp}\addlegendentry{\makebox[35bp][l]{:2.5 h}}
\addlegendimage{only marks, mark=dia, draw=purplec, fill=purplec, mark size=1.5bp}\addlegendentry{\makebox[29bp][l]{:6 h}}
\addlegendimage{only marks, mark=dia, draw=greenc, fill=greenc, mark size=1.5bp}\addlegendentry{\makebox[33.5bp][l]{:10 h}}
\addlegendimage{empty legend}\addlegendentry{}
\addlegendimage{only marks, mark=dtri, draw=pinkc, fill=pinkc, mark size=1.5bp}\addlegendentry{\makebox[29.6bp][l]{:1 h}}
\addlegendimage{only marks, mark=dtri, draw=orangec, fill=orangec, mark size=1.5bp}\addlegendentry{\makebox[35bp][l]{:3 h}}
\addlegendimage{only marks, mark=dtri, draw=purplec, fill=purplec, mark size=1.5bp}\addlegendentry{\makebox[29bp][l]{:7 h}}
\addlegendimage{only marks, mark=dtri, draw=greenc, fill=greenc, mark size=1.5bp}\addlegendentry{\makebox[33.5bp][l]{:20 h}}
\end{axis}
% ================= annotations =================
\begin{scope}[every node/.style={anchor=west, inner sep=0pt}]
\node[font=\fs{7.5}] at (5.1bp,388.5bp) {(a)};
\node[font=\fs{6.2}] at (36bp,392.4bp) {HEK 293T};
\node[font=\fs{6.2}] at (38.4bp,383.4bp) {\textit{Y} = 0.004 854\textit{X} − 1.749×10\textsuperscript{−5}};
\node[font=\fs{6.2}] at (37.5bp,375.3bp) {\textit{R}\textsuperscript{2} = 0.698 71};
\node[font=\fs{6.2}] at (37.8bp,366.6bp) {Pearson’s \textit{R} = 0.835 89};
\node[font=\fs{7.5}] at (5.7bp,219.6bp) {(b)};
\node[font=\fs{6.2}] at (36bp,221.4bp) {HEK 293T};
\node[font=\fs{6.2}] at (37.8bp,213bp) {\textit{Y} = 0.074 36\textit{X} + 0.004 781};
\node[font=\fs{6.2}] at (37.8bp,204.9bp) {\textit{R}\textsuperscript{2} = 0.560 99};
\node[font=\fs{6.2}] at (37.8bp,195.9bp) {Pearson’s \textit{R} = 0.748 99};
\node[font=\fs{6.2}] at (133.8bp,222.3bp) {’};
\node[font=\fs{7.5}] at (252.6bp,395.7bp) {(c)};
\node[font=\fs{6.2}] at (275.4bp,394.5bp) {hTERT RPE-1};
\node[font=\fs{6.2}] at (278.1bp,386.4bp) {\textit{Y} = 0.005 234\textit{X} + 0.000 593 9};
\node[font=\fs{6.2}] at (277.8bp,377.7bp) {\textit{R}\textsuperscript{2} = 0.363 77};
\node[font=\fs{6.2}] at (277.8bp,369bp) {Pearson’s \textit{R} = 0.603 13};
\node[font=\fs{7.5}] at (250.8bp,222.3bp) {(d)};
\node[font=\fs{6.2}] at (278.1bp,223.5bp) {hTERT RPE-1};
\node[font=\fs{6.2}] at (279.9bp,215.4bp) {\textit{Y} = 0.020 93\textit{X} + 0.003 19};
\node[font=\fs{6.2}] at (279.9bp,206.7bp) {\textit{R}\textsuperscript{2} = 0.286 31};
\node[font=\fs{6.2}] at (279.9bp,198.3bp) {Pearson’s \textit{R} = 0.535 08};
\end{scope}
\end{tikzpicture}
\end{document}
